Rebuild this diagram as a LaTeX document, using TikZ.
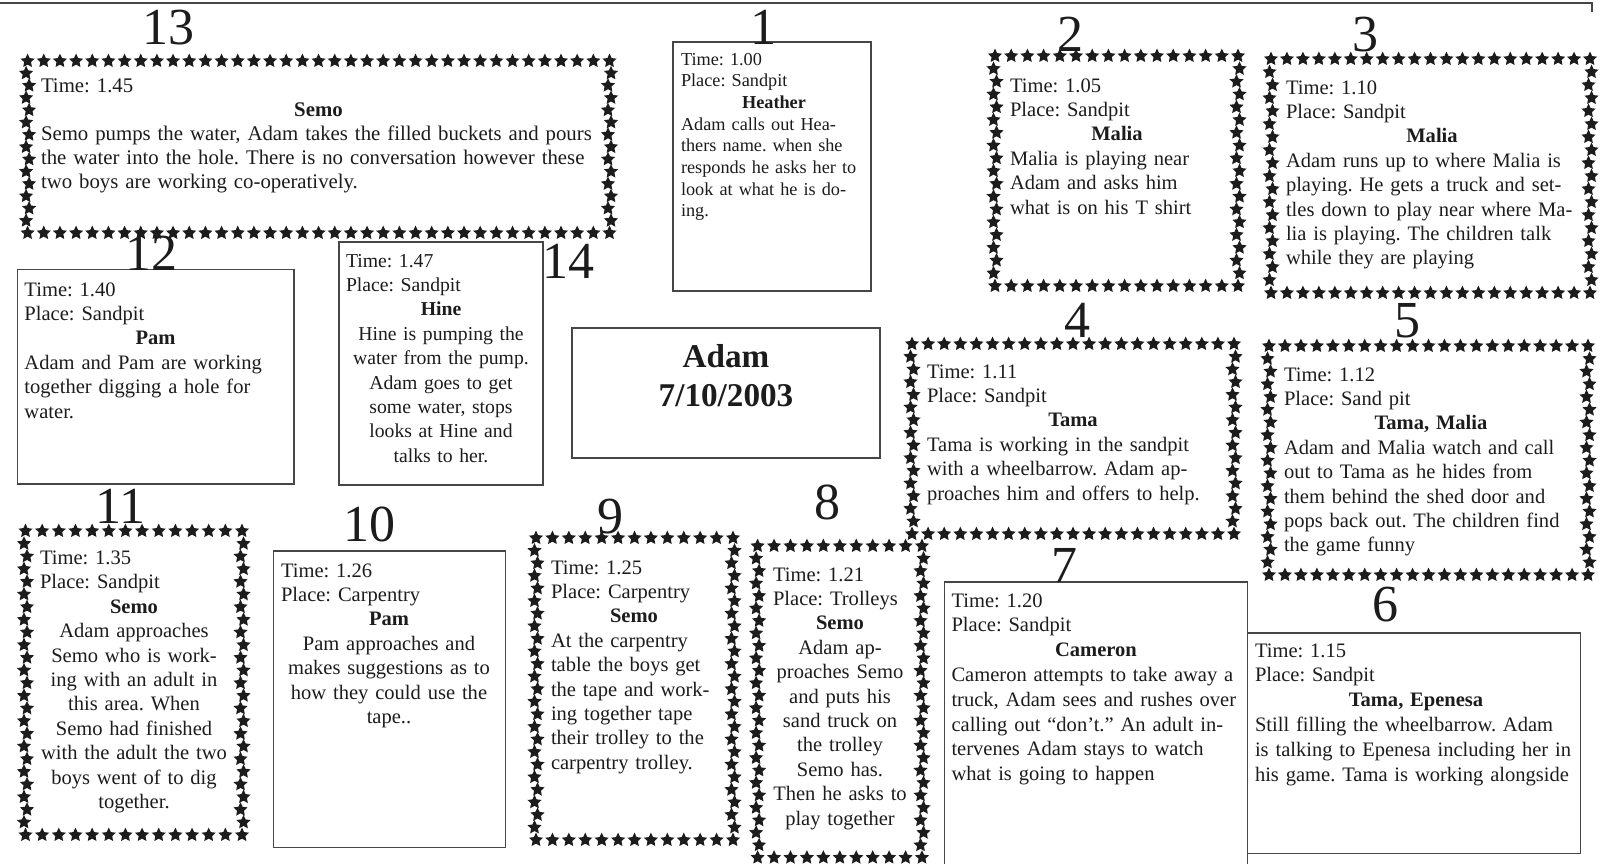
\documentclass[tikz,border=0pt]{standalone}
\usepackage{fontspec}
\setmainfont{Liberation Serif}
\usepackage{tikz}
\definecolor{ink}{RGB}{28,28,28}
\definecolor{frame}{RGB}{70,70,70}
\newcommand{\drawbox}{\draw[frame, line width=0.7pt]}
\newcommand{\who}[1]{\makebox[\linewidth]{\textbf{#1}}}
\newcommand{\lft}[1]{\makebox[\linewidth][l]{#1}}
\newcommand{\obsfit}{\frenchspacing\rightskip=0pt plus 1fil minus 30pt\relax}
\newcommand{\obsmidfit}{\frenchspacing\leftskip=0pt plus 1fil minus 15pt\rightskip=0pt plus 1fil minus 15pt\relax}
\newcommand{\starmark}[2]{\fill[ink] ({#1},{#2}) +(270:7.4) -- +(306:3.6) -- +(342:7.4) -- +(18:3.6) -- +(54:7.4) -- +(90:3.6) -- +(126:7.4) -- +(162:3.6) -- +(198:7.4) -- +(234:3.6) -- cycle;}
\newcommand{\starframe}[6]{
    \foreach \i in {0,...,#5}{
    \starmark{#1+(#3-#1)/#5*\i}{#2}
    \starmark{#1+(#3-#1)/#5*\i}{#4}
    }
    \foreach \j in {1,...,#6}{
      \ifnum\j<#6
      \starmark{#1+1.5*cos(180*\j)}{#2+(#4-#2)/#6*\j}
      \starmark{#3-1.5*cos(180*\j)}{#2+(#4-#2)/#6*\j}
      \fi
    }
}

\begin{document}
\begin{tikzpicture}[x=0.5pt, y=-0.5pt,
    obs/.style={inner sep=0pt, anchor=base, align=left, text=ink, font=\fontsize{10.27}{12.2}\selectfont},
    obsmid/.style={obs, align=center},
    num/.style={inner sep=0pt, anchor=base, text=ink, font=\fontsize{26}{26}\selectfont}]
\useasboundingbox (0,0) rectangle (1601,864);
\fill[white] (0,0) rectangle (1601,864);
\draw[frame, line width=0.9pt] (0,3) -- (1592,3) -- (1592,12);
\starframe{27.6}{61}{609.5}{233}{36}{14}
    \starframe{995}{56}{1238}{286}{15}{18}
    \starframe{1271}{59}{1590}{293}{20}{18}
    \starframe{912}{344}{1234}{534}{20}{15}
    \starframe{1269}{346}{1588}{575}{20}{18}
    \starframe{25.5}{531}{242}{835}{13}{24}
    \starframe{536}{538}{733}{840}{12}{24}
    \starframe{757.6}{546}{922}{857.6}{10}{25}
\drawbox (673,42) rectangle (871,291);
    \drawbox (17.4,269.5) rectangle (294,484);
    \drawbox (339,242) rectangle (543,485);
    \drawbox (572,328) rectangle (880,458);
    \drawbox (273.6,551) rectangle (505.4,847.4);
    \drawbox (944.4,864) -- (944.4,582) -- (1247.7,582) -- (1247.7,864);
    \drawbox (1247.7,633) rectangle (1580.5,853.6);
\node[num] (n13) at (168.5,44) {13};\node[num] (n1) at (763.7,44) {1};\node[num] (n2) at (1070,51) {2};\node[num] (n3) at (1365,51) {3};\node[num] (n12) at (151,270) {12};\node[num] (n14) at (568,278) {14};\node[num] (n4) at (1077,337) {4};\node[num] (n5) at (1407,337) {5};\node[num] (n11) at (120.5,523) {11};\node[num] (n10) at (369.6,541) {10};\node[num] (n9) at (610.6,533) {9};\node[num] (n8) at (827,519) {8};\node[num] (n7) at (1064,582) {7};\node[num] (n6) at (1385.5,621) {6};
\node[inner sep=0pt, anchor=base, text width=150pt, align=center, text=ink, font=\bfseries\fontsize{16.6}{19.4}\selectfont] (adam) at (726,367.6) {Adam\\7/10/2003};
\node[obs, text width=277.5pt, font=\fontsize{10.4}{12.1}\selectfont] (t13) at (318.5,92) {\obsfit Time: 1.45\\\who{Semo}\\Semo pumps the water, Adam takes the filled buckets and pours\\the water into the hole. There is no conversation however these\\two boys are working co-operatively.};
\node[obs, text width=93pt, font=\fontsize{9.12}{10.85}\selectfont] (t1) at (774,65) {\obsfit Time: 1.00\\Place: Sandpit\\\who{Heather}\\Adam calls out Hea-\\thers name. when she\\responds he asks her to\\look at what he is do-\\ing.};
\node[obs, text width=107pt] (t2) at (1117,92) {\obsfit Time: 1.05\\Place: Sandpit\\\who{Malia}\\Malia is playing near\\Adam and asks him\\what is on his T shirt};
\node[obs, text width=146pt] (t3) at (1432,94) {\obsfit Time: 1.10\\Place: Sandpit\\\who{Malia}\\Adam runs up to where Malia is\\playing. He gets a truck and set-\\tles down to play near where Ma-\\lia is playing. The children talk\\while they are playing};
\node[obs, text width=131pt] (t12) at (155.5,296) {\obsfit Time: 1.40\\Place: Sandpit\\\who{Pam}\\Adam and Pam are working\\together digging a hole for\\water.};
\node[obsmid, text width=95pt, font=\fontsize{9.85}{12.2}\selectfont] (t14) at (441,267) {\obsmidfit\lft{Time: 1.47}\\\lft{Place: Sandpit}\\\textbf{Hine}\\Hine is pumping the\\water from the pump.\\Adam goes to get\\some water, stops\\looks at Hine and\\talks to her.};
\node[obs, text width=146pt] (t4) at (1073,378) {\obsfit Time: 1.11\\Place: Sandpit\\\who{Tama}\\Tama is working in the sandpit\\with a wheelbarrow. Adam ap-\\proaches him and offers to help.};
\node[obs, text width=147pt] (t5) at (1431,381) {\obsfit Time: 1.12\\Place: Sand pit\\\who{Tama, Malia}\\Adam and Malia watch and call\\out to Tama as he hides from\\them behind the shed door and\\pops back out. The children find\\the game funny};
\node[obsmid, text width=94pt] (t11) at (134,564.5) {\obsmidfit\lft{Time: 1.35}\\\lft{Place: Sandpit}\\\textbf{Semo}\\Adam approaches\\Semo who is work-\\ing with an adult in\\this area. When\\Semo had finished\\with the adult the two\\boys went of to dig\\together.};
\node[obsmid, text width=108pt] (t10) at (389,577) {\obsmidfit\lft{Time: 1.26}\\\lft{Place: Carpentry}\\\textbf{Pam}\\Pam approaches and\\makes suggestions as to\\how they could use the\\tape..};
\node[obs, text width=83pt] (t9) at (634,574) {\obsfit Time: 1.25\\Place: Carpentry\\\who{Semo}\\At the carpentry\\table the boys get\\the tape and work-\\ing together tape\\their trolley to the\\carpentry trolley.};
\node[obsmid, text width=67pt] (t8) at (840,581) {\obsmidfit\lft{Time: 1.21}\\\lft{Place: Trolleys}\\\textbf{Semo}\\Adam ap-\\proaches Semo\\and puts his\\sand truck on\\the trolley\\Semo has.\\Then he asks to\\play together};
\node[obs, text width=144.5pt, font=\fontsize{10.27}{12.4}\selectfont] (t7) at (1096,607) {\obsfit Time: 1.20\\Place: Sandpit\\\who{Cameron}\\Cameron attempts to take away a\\truck, Adam sees and rushes over\\calling out ``don't.'' An adult in-\\tervenes Adam stays to watch\\what is going to happen};
\node[obs, text width=161pt, font=\fontsize{10.27}{12.45}\selectfont] (t6) at (1416,657) {\obsfit Time: 1.15\\Place: Sandpit\\\who{Tama, Epenesa}\\Still filling the wheelbarrow. Adam\\is talking to Epenesa including her in\\his game. Tama is working alongside};
\end{tikzpicture}
\end{document}
